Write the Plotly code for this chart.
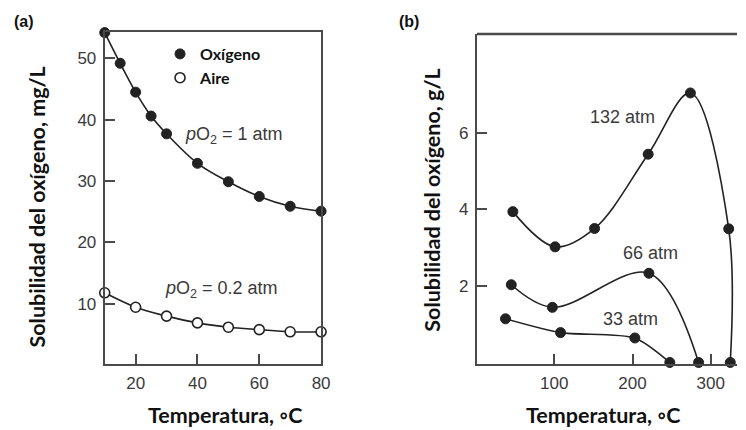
import plotly.graph_objects as go

# ---- Panel (a) data ----
temp_a_oxy = [10, 15, 20, 25, 30, 40, 50, 60, 70, 80]
sol_oxy = [54.2, 49.2, 44.5, 40.6, 37.7, 32.9, 29.9, 27.5, 25.9, 25.1]
temp_a_air = [10, 20, 30, 40, 50, 60, 70, 80]
sol_air = [11.8, 9.45, 8.0, 6.9, 6.2, 5.8, 5.45, 5.45]

# ---- Panel (b) data ----
temp_132 = [47, 101, 151.5, 220, 274, 323, 325]
sol_132 = [3.94, 3.02, 3.50, 5.44, 7.04, 3.49, 0.0]
temp_66 = [45, 97.5, 221, 284.5]
sol_66 = [2.03, 1.44, 2.33, 0.0]
temp_33 = [37.6, 108, 203, 247.7]
sol_33 = [1.14, 0.78, 0.64, 0.0]

xticks_a = [20, 40, 60, 80]
yticks_a = [10, 20, 30, 40, 50]
xticks_b = [100, 200, 300]
yticks_b = [2, 4, 6]

INK = "#222222"
AX = "#4a4a4a"
TXT = "#3a3a3a"
TITLE_FONT = dict(family="Lato", size=21.5, color="#111111")

fig = go.Figure()

line_style = dict(color=INK, width=1.6)
fill_marker = dict(color=INK, size=10, line=dict(color=INK, width=1))
open_marker = dict(color="white", size=10, line=dict(color=INK, width=1.6))

# panel a lines
fig.add_trace(go.Scatter(x=temp_a_oxy, y=sol_oxy, mode="lines", line_shape="spline",
                         line=line_style, showlegend=False, xaxis="x", yaxis="y",
                         cliponaxis=False, hoverinfo="skip"))
fig.add_trace(go.Scatter(x=temp_a_air, y=sol_air, mode="lines", line_shape="spline",
                         line=line_style, showlegend=False, xaxis="x", yaxis="y",
                         cliponaxis=False, hoverinfo="skip"))
fig.add_trace(go.Scatter(x=temp_a_oxy, y=sol_oxy, mode="markers", marker=fill_marker,
                         name="<b>Oxígeno</b>", xaxis="x", yaxis="y", cliponaxis=False))
fig.add_trace(go.Scatter(x=temp_a_air, y=sol_air, mode="markers", marker=open_marker,
                         name="<b>Aire</b>", xaxis="x", yaxis="y", cliponaxis=False))

# panel b
for tx, sy, sm in [(temp_132, sol_132, 1.0), (temp_66, sol_66, 1.0), (temp_33, sol_33, 0.7)]:
    fig.add_trace(go.Scatter(x=tx, y=sy, mode="lines+markers",
                             line=dict(color=INK, width=1.6, shape="spline", smoothing=sm),
                             marker=fill_marker, showlegend=False,
                             xaxis="x2", yaxis="y2", cliponaxis=False))

axis_common = dict(
    showgrid=False, zeroline=False, showline=True, linecolor=AX, linewidth=2,
    ticks="inside", ticklen=10, tickwidth=1.5, tickcolor=AX,
    tickfont=dict(family="Liberation Sans", size=17, color=TXT),
    ticklabelstandoff=3,
)

fig.update_layout(
    width=746, height=430,
    margin=dict(l=0, r=0, t=0, b=0),
    paper_bgcolor="white", plot_bgcolor="white",
    xaxis=dict(domain=[106/746, 325/746], range=[10, 80], tickvals=xticks_a,
               mirror=True, anchor="y", **axis_common),
    yaxis=dict(domain=[(430-364)/430, (430-32)/430], range=[0.2, 54.3], tickvals=yticks_a,
               mirror=True, anchor="x", **axis_common),
    xaxis2=dict(domain=[482.7/746, 1.0], range=[1, 333.6], tickvals=xticks_b,
                mirror=False, anchor="y2", **axis_common),
    yaxis2=dict(domain=[(430-364)/430, (430-34)/430], range=[-0.04, 8.58], tickvals=yticks_b,
                mirror=False, anchor="x2", **axis_common),
    legend=dict(x=162/746, y=(430-37)/430, xanchor="left", yanchor="top",
                bgcolor="rgba(0,0,0,0)", font=dict(family="Lato", size=16, color="#111111"),
                itemwidth=30, tracegroupgap=0),
    showlegend=True,
)

# top line for panel b
fig.add_shape(type="line", xref="x2 domain", yref="y2 domain", x0=0, x1=1, y0=1, y1=1,
              line=dict(color=AX, width=2.5))

ann = []
def A(text, x, y, xref, yref, font, **kw):
    ann.append(dict(text=text, x=x, y=y, xref=xref, yref=yref, showarrow=False, font=font,
                    xanchor="center", yanchor="middle", **kw))

lab_font = dict(family="Liberation Sans", size=18, color=TXT)
A("<i>p</i>O<sub>2</sub> = 1 atm", 51.7, 37.5, "x", "y", lab_font)
A("<i>p</i>O<sub>2</sub> = 0.2 atm", 47.9, 12.3, "x", "y", lab_font)
A("132 atm", 187, 6.42, "x2", "y2", lab_font)
A("66 atm", 222.5, 2.87, "x2", "y2", lab_font)
A("33 atm", 197, 1.14, "x2", "y2", lab_font)

panel_font = dict(family="Liberation Sans", size=16, color="#111111")
A("<b>(a)</b>", 24/746, 1 - 22/430, "paper", "paper", panel_font)
A("<b>(b)</b>", 414/746, 1 - 22/430, "paper", "paper", panel_font)

A("<b>Temperatura, ◦C</b>", 228/746, 1 - 415/430, "paper", "paper", TITLE_FONT)
A("<b>Temperatura, ◦C</b>", 611/746, 1 - 415/430, "paper", "paper", TITLE_FONT)
A("<b>Solubilidad del oxígeno, mg/L</b>", 37/746, 1 - 207/430, "paper", "paper", TITLE_FONT, textangle=-90)
A("<b>Solubilidad del oxígeno, g/L</b>", 437/746, 1 - 200/430, "paper", "paper", TITLE_FONT, textangle=-90)

fig.update_layout(annotations=ann)

fig.write_html("out.html")
